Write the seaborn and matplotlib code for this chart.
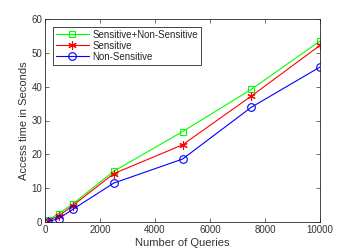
import pandas as pd
import matplotlib
matplotlib.use('Agg')
import matplotlib.pyplot as plt
import seaborn as sns

# valores
consultas = [100, 500, 1000, 2500, 5000, 7500, 10000]
sens_nosens = [0.5, 2.5, 5.3, 15.0, 26.7, 39.2, 53.5]
sensible = [0.4, 1.8, 4.8, 14.3, 22.8, 37.2, 52.2]
no_sensible = [0.1, 1.0, 3.7, 11.5, 18.6, 33.9, 45.8]

series = ['Sensitive+Non-Sensitive', 'Sensitive', 'Non-Sensitive']
colores = ['#00ff00', '#ff0000', '#0000ff']
marcadores = ['s', (6, 2, 0), 'o']
tamanos = [4.5, 6, 5.5]

df = pd.DataFrame({
    'Number of Queries': consultas * 3,
    'tiempo': sens_nosens + sensible + no_sensible,
    'serie': [s for s in series for _ in consultas],
})

sns.set_style('ticks')
plt.rcParams['font.family'] = ['Liberation Sans', 'DejaVu Sans']

fig = plt.figure(figsize=(3.54, 2.5), dpi=100)
ax = fig.add_axes([45 / 354, 28 / 250, 275 / 354, 203 / 250])

for nombre, color, marc, ms in zip(series, colores, marcadores, tamanos):
    sub = df[df['serie'] == nombre]
    sns.lineplot(data=sub, x='Number of Queries', y='tiempo', ax=ax,
                 color=color, marker=marc, markersize=ms, linewidth=0.8,
                 markerfacecolor='none', markeredgecolor=color,
                 markeredgewidth=0.8, label=nombre)

ax.set_xlim(0, 10000)
ax.set_ylim(0, 60)
ax.set_xticks([0, 2000, 4000, 6000, 8000, 10000])
ax.set_yticks(range(0, 61, 10))
ax.tick_params(direction='in', top=True, right=True, labelsize=7,
               length=3, width=0.5, colors='#333333', pad=2)
for lado in ax.spines.values():
    lado.set_linewidth(0.6)
    lado.set_color('#262626')
ax.set_xlabel('Number of Queries', fontsize=8, labelpad=2, color='#333333')
ax.set_ylabel('Access time in Seconds', fontsize=8, labelpad=2, color='#333333')

ley = ax.legend(loc='upper left', fontsize=7, frameon=True, fancybox=False,
                edgecolor='#262626', framealpha=1, handlelength=3.4,
                borderaxespad=0.8, borderpad=0.3, labelspacing=0.1,
                handletextpad=0.4)
ley.get_frame().set_linewidth(0.6)

fig.savefig('out.png', dpi=100, facecolor='white')
